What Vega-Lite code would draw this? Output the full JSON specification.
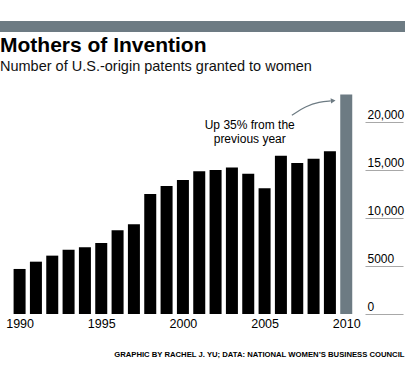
{
  "$schema": "https://vega.github.io/schema/vega-lite/v6.json",
  "width": 360,
  "height": 230,
  "autosize": {"type": "none"},
  "padding": {"left": 0, "top": 84, "right": 45, "bottom": 66},
  "background": "white",
  "config": {"view": {"stroke": null}, "font": "Liberation Sans"},
  "title": {
    "text": "Mothers of Invention",
    "subtitle": "Number of U.S.-origin patents granted to women",
    "anchor": "start",
    "frame": "group",
    "font": "Liberation Sans",
    "fontSize": 21,
    "fontWeight": "bold",
    "color": "#000",
    "subtitleFont": "Liberation Sans",
    "subtitleFontSize": 14.5,
    "subtitleColor": "#111",
    "subtitlePadding": 4,
    "offset": -53
  },
  "datasets": {
    "patents": [
      {"year": 1990, "patents": 4700},
      {"year": 1991, "patents": 5460},
      {"year": 1992, "patents": 6090},
      {"year": 1993, "patents": 6710},
      {"year": 1994, "patents": 6960},
      {"year": 1995, "patents": 7410},
      {"year": 1996, "patents": 8730},
      {"year": 1997, "patents": 9360},
      {"year": 1998, "patents": 12520},
      {"year": 1999, "patents": 13360},
      {"year": 2000, "patents": 13980},
      {"year": 2001, "patents": 14890},
      {"year": 2002, "patents": 15030},
      {"year": 2003, "patents": 15300},
      {"year": 2004, "patents": 14640},
      {"year": 2005, "patents": 13110},
      {"year": 2006, "patents": 16520},
      {"year": 2007, "patents": 15760},
      {"year": 2008, "patents": 16210},
      {"year": 2009, "patents": 16970},
      {"year": 2010, "patents": 22900}
    ],
    "arrow": [
      {"year": 2006.67, "patents": 20740},
      {"year": 2007.56, "patents": 21720},
      {"year": 2008.35, "patents": 22130},
      {"year": 2009.05, "patents": 22230}
    ],
    "one": [{}]
  },
  "layer": [
    {
      "data": {"name": "one"},
      "mark": {"type": "rect", "color": "#6d7b83"},
      "encoding": {
        "x": {"datum": 1988.5, "type": "quantitative"},
        "x2": {"datum": 2014},
        "y": {"datum": 30585, "type": "quantitative"},
        "y2": {"datum": 29436}
      }
    },
    {
      "data": {"name": "patents"},
      "mark": {"type": "bar", "width": 12},
      "encoding": {
        "x": {
          "field": "year",
          "type": "quantitative",
          "scale": {"domain": [1989.107, 2010.536], "nice": false, "zero": false},
          "axis": {
            "values": [1990, 1995, 2000, 2005, 2010],
            "format": "d",
            "domain": false,
            "ticks": false,
            "tickSize": 0,
            "grid": false,
            "labelPadding": 3,
            "labelFontSize": 12.5,
            "labelColor": "#000",
            "labelFlush": false,
            "labelOverlap": false,
            "title": "GRAPHIC BY RACHEL J. YU; DATA: NATIONAL WOMEN\u2019S BUSINESS COUNCIL",
            "titleFontSize": 7.7,
            "titleFontWeight": "bold",
            "titleColor": "#000",
            "titleAnchor": "end",
            "titleAlign": "right",
            "titleBaseline": "alphabetic",
            "titleX": 404,
            "titleY": 42.7
          }
        },
        "y": {
          "field": "patents",
          "type": "quantitative",
          "scale": {"domain": [0, 24000], "nice": false},
          "axis": {
            "orient": "right",
            "offset": 5,
            "values": [0, 5000, 10000, 15000, 20000],
            "tickSize": 38,
            "tickColor": "#a8a8a8",
            "tickWidth": 1.2,
            "domain": false,
            "grid": false,
            "labelPadding": -36,
            "labelAlign": "left",
            "labelBaseline": "alphabetic",
            "labelOffset": -3.4,
            "labelFontSize": 12,
            "labelColor": "#000",
            "labelOverlap": false,
            "labelExpr": "datum.value >= 10000 ? format(datum.value, ',') : format(datum.value, 'd')",
            "title": null
          }
        },
        "color": {
          "condition": {"test": "datum.year === 2010", "value": "#6d7b83"},
          "value": "#000000"
        }
      }
    },
    {
      "data": {"name": "arrow"},
      "mark": {"type": "line", "interpolate": "basis", "color": "#6d7b83", "strokeWidth": 1.2},
      "encoding": {
        "x": {"field": "year", "type": "quantitative"},
        "y": {"field": "patents", "type": "quantitative"}
      }
    },
    {
      "data": {"name": "one"},
      "mark": {"type": "point", "shape": "triangle-right", "filled": true, "color": "#6d7b83", "size": 30, "angle": -5, "opacity": 1},
      "encoding": {
        "x": {"datum": 2009.2, "type": "quantitative"},
        "y": {"datum": 22260, "type": "quantitative"}
      }
    },
    {
      "data": {"name": "one"},
      "mark": {"type": "text", "align": "center", "baseline": "alphabetic", "fontSize": 12, "lineHeight": 14.3, "color": "#000", "text": ["Up 35% from the", "previous year"]},
      "encoding": {
        "x": {"datum": 2004.09, "type": "quantitative"},
        "y": {"datum": 19340, "type": "quantitative"}
      }
    }
  ]
}
